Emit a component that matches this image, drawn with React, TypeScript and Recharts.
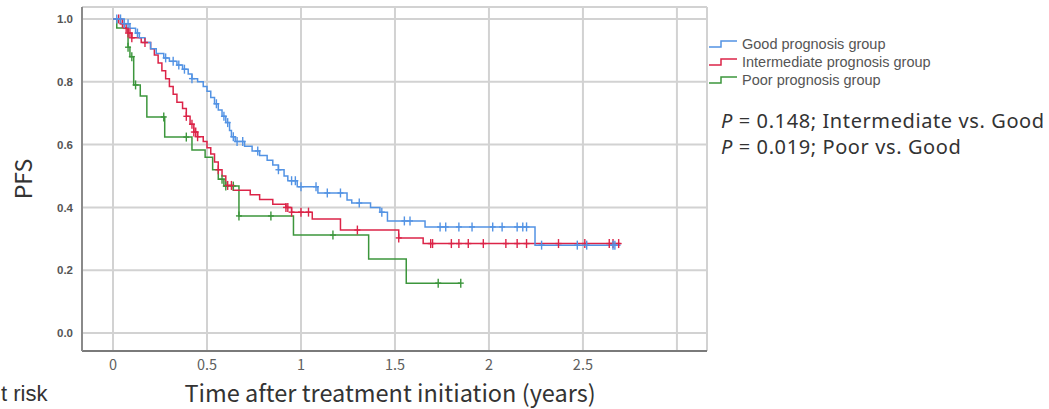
import React from 'react';
import { ComposedChart, Line, Scatter, XAxis, YAxis, CartesianGrid } from 'recharts';

// Kaplan-Meier steps: time (years) and PFS
const goodTimes = [0, 0.06, 0.09, 0.12, 0.14, 0.17, 0.2, 0.23, 0.27, 0.3, 0.34, 0.37, 0.4, 0.42, 0.45, 0.48, 0.5, 0.52, 0.54, 0.56, 0.58, 0.6, 0.62, 0.63, 0.65, 0.7, 0.74, 0.78, 0.82, 0.85, 0.88, 0.91, 0.93, 0.98, 1.09, 1.245, 1.27, 1.37, 1.42, 1.46, 1.66, 2.245, 2.7];
const goodPfs = [1.0, 0.985, 0.97, 0.955, 0.94, 0.925, 0.905, 0.89, 0.876, 0.865, 0.853, 0.84, 0.825, 0.81, 0.8, 0.785, 0.77, 0.75, 0.73, 0.71, 0.69, 0.67, 0.645, 0.625, 0.61, 0.595, 0.58, 0.565, 0.55, 0.535, 0.52, 0.5, 0.485, 0.466, 0.446, 0.424, 0.414, 0.4, 0.385, 0.357, 0.338, 0.28, 0.28];
const goodCensored = [0.02, 0.04, 0.06, 0.08, 0.13, 0.28, 0.32, 0.35, 0.38, 0.42, 0.55, 0.59, 0.61, 0.64, 0.66, 0.69, 0.77, 0.88, 0.95, 0.97, 1.0, 1.08, 1.14, 1.21, 1.31, 1.43, 1.55, 1.58, 1.74, 1.77, 1.84, 1.91, 2.02, 2.07, 2.15, 2.18, 2.2, 2.28, 2.47, 2.52, 2.66, 2.67];

const interTimes = [0, 0.04, 0.06, 0.08, 0.1, 0.15, 0.2, 0.22, 0.24, 0.26, 0.28, 0.3, 0.32, 0.34, 0.37, 0.39, 0.41, 0.43, 0.45, 0.48, 0.5, 0.52, 0.54, 0.56, 0.58, 0.6, 0.64, 0.73, 0.78, 0.85, 0.92, 0.95, 1.06, 1.21, 1.52, 1.65, 2.7];
const interPfs = [1.0, 0.985, 0.97, 0.955, 0.94, 0.925, 0.905, 0.885, 0.86, 0.835, 0.81, 0.785, 0.76, 0.735, 0.715, 0.69, 0.665, 0.64, 0.625, 0.61, 0.59, 0.57, 0.545, 0.52, 0.5, 0.47, 0.455, 0.44, 0.425, 0.41, 0.4, 0.385, 0.363, 0.328, 0.303, 0.285, 0.285];
const interCensored = [0.03, 0.05, 0.07, 0.08, 0.09, 0.1, 0.17, 0.39, 0.42, 0.43, 0.44, 0.45, 0.56, 0.61, 0.63, 0.92, 0.93, 0.95, 1.0, 1.04, 1.3, 1.52, 1.69, 1.7, 1.8, 1.84, 1.89, 1.97, 2.09, 2.15, 2.2, 2.37, 2.51, 2.64, 2.66, 2.69];

const poorTimes = [0, 0.02, 0.08, 0.09, 0.11, 0.145, 0.18, 0.275, 0.42, 0.49, 0.53, 0.56, 0.59, 0.67, 0.96, 1.36, 1.56, 1.85];
const poorPfs = [1.0, 0.971, 0.91, 0.88, 0.79, 0.755, 0.688, 0.624, 0.583, 0.56, 0.52, 0.49, 0.468, 0.373, 0.312, 0.236, 0.159, 0.159];
const poorCensored = [0.08, 0.1, 0.12, 0.27, 0.39, 0.58, 0.6, 0.64, 0.67, 0.84, 1.17, 1.73, 1.85];

const xTicks = [0, 0.5, 1, 1.5, 2, 2.5, 3];
const yTicks = [0, 0.2, 0.4, 0.6, 0.8, 1.0];

const groupNames = ['Good prognosis group', 'Intermediate prognosis group', 'Poor prognosis group'];
const pValues = ['0.148; Intermediate vs. Good', '0.019; Poor vs. Good'];

const BLUE = '#5393e4';
const RED = '#dc2448';
const GREEN = '#3c963c';
const JP = '"Noto Sans CJK JP", "Noto Sans", sans-serif';
const SANS = '"Liberation Sans", Arial, sans-serif';

const toSteps = (times: number[], pfs: number[]) => times.map((t, i) => ({ t, s: pfs[i] }));

// censor marks sit on the curve at their time
const marks = (times: number[], pfs: number[], cens: number[]) =>
  cens.map(c => {
    let s = pfs[0];
    times.forEach((t, i) => { if (t <= c) s = pfs[i]; });
    return { t: c, s };
  });

const goodData = toSteps(goodTimes, goodPfs);
const interData = toSteps(interTimes, interPfs);
const poorData = toSteps(poorTimes, poorPfs);

const Plus = (color: string) => (props: any) => {
  const { cx, cy } = props;
  if (cx == null || cy == null) return null;
  return (
    <g stroke={color} strokeWidth={1.4}>
      <line x1={cx} y1={cy - 4.5} x2={cx} y2={cy + 4.5} />
      <line x1={cx - 3} y1={cy} x2={cx + 3} y2={cy} />
    </g>
  );
};

const StepIcon = ({ color }: { color: string }) => (
  <svg width={30} height={12} style={{ display: 'block' }}>
    <path d="M1 9 H13 V3 H29" fill="none" stroke={color} strokeWidth={1.5} />
  </svg>
);

export default function App() {
  const colors = [BLUE, RED, GREEN];
  return (
    <div style={{ position: 'absolute', left: 0, top: 0, width: 1049, height: 409, background: '#fff', overflow: 'hidden' }}>
      <ComposedChart width={1049} height={409} margin={{ top: 7, right: 342, bottom: 28, left: 42 }}>
        <CartesianGrid stroke="#d2d2d2" strokeWidth={2} />
        <XAxis
          type="number"
          dataKey="t"
          domain={[-0.165, 3.16]}
          ticks={xTicks}
          allowDataOverflow
          height={30}
          tickFormatter={(v: number) => (v === 3 ? '' : String(v))}
          tickLine={false}
          tickSize={0}
          tickMargin={9}
          axisLine={{ stroke: '#7a7a7a', strokeWidth: 2 }}
          tick={{ fill: '#606060', fontSize: 14.5, fontFamily: JP }}
        />
        <YAxis
          type="number"
          dataKey="s"
          domain={[-0.057, 1.038]}
          ticks={yTicks}
          allowDataOverflow
          width={40}
          tickFormatter={(v: number) => v.toFixed(1)}
          tickLine={false}
          tickSize={0}
          tickMargin={9}
          axisLine={{ stroke: '#8a8a8a', strokeWidth: 2 }}
          tick={{ fill: '#555', fontSize: 11.5, fontWeight: 700, fontFamily: SANS }}
        />
        <Line data={poorData} dataKey="s" type="stepAfter" stroke={GREEN} strokeWidth={1.5} dot={false} isAnimationActive={false} />
        <Line data={interData} dataKey="s" type="stepAfter" stroke={RED} strokeWidth={1.5} dot={false} isAnimationActive={false} />
        <Line data={goodData} dataKey="s" type="stepAfter" stroke={BLUE} strokeWidth={1.5} dot={false} isAnimationActive={false} />
        <Scatter data={marks(poorTimes, poorPfs, poorCensored)} dataKey="s" shape={Plus(GREEN)} isAnimationActive={false} />
        <Scatter data={marks(interTimes, interPfs, interCensored)} dataKey="s" shape={Plus(RED)} isAnimationActive={false} />
        <Scatter data={marks(goodTimes, goodPfs, goodCensored)} dataKey="s" shape={Plus(BLUE)} isAnimationActive={false} />
        <text x={22} y={179} transform="rotate(-90 22 179)" textAnchor="middle" dominantBaseline="central" fontSize={23} fill="#333" fontFamily={JP}>PFS</text>
        <text x={390} y={392} textAnchor="middle" dominantBaseline="central" fontSize={23.5} fill="#333" fontFamily={JP}>Time after treatment initiation (years)</text>
        <text x={1} y={393} textAnchor="start" dominantBaseline="central" fontSize={22} fill="#333" fontFamily={SANS}>t risk</text>
      </ComposedChart>

      <div style={{ position: 'absolute', left: 708, top: 35, fontFamily: SANS, fontSize: 14.5, color: '#555', lineHeight: '18px' }}>
        {groupNames.map((n, i) => (
          <div key={n} style={{ display: 'flex', alignItems: 'center', gap: 4, whiteSpace: 'nowrap', height: 18 }}>
            <StepIcon color={colors[i]} />
            <span>{n}</span>
          </div>
        ))}
      </div>

      <div style={{ position: 'absolute', left: 721, top: 108, fontFamily: '"Noto Sans", sans-serif', fontSize: 20, letterSpacing: 0.6, color: '#333', lineHeight: '26px', whiteSpace: 'nowrap' }}>
        {pValues.map(p => (
          <div key={p}><i>P</i> = {p}</div>
        ))}
      </div>
    </div>
  );
}
